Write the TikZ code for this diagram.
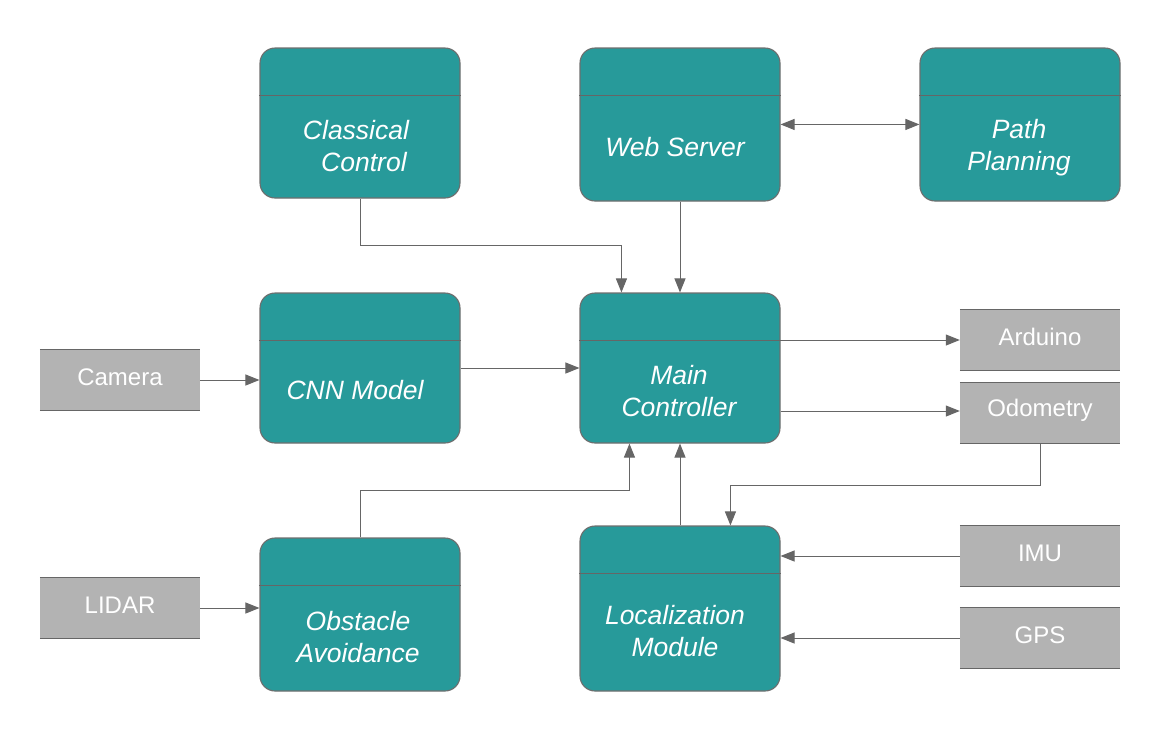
\documentclass[tikz,border=0pt]{standalone}
\usepackage{fontspec}
\setmainfont{Liberation Sans}
\usetikzlibrary{arrows.meta,calc}
\definecolor{teal1}{HTML}{279A9A}
\definecolor{edgegray}{HTML}{6E6E6E}
\definecolor{linegray}{HTML}{666666}
\definecolor{boxgray}{HTML}{B3B3B3}
\tikzset{
  tealbox/.style={draw=edgegray, line width=1.1pt, fill=teal1, rounded corners=15pt,
    minimum width=200pt, minimum height=#1, inner sep=0pt},
  tealbox/.default=150pt,
  tealtext/.style={text=white, font=\fontsize{26.5}{32}\selectfont\itshape, align=center, inner sep=0pt},
  divider/.style={draw=linegray, line width=1.3pt},
  graybox/.style={fill=boxgray, minimum width=160pt, minimum height=60pt, inner sep=0pt,
    text=white, font=\fontsize{24}{28}\selectfont},
  graytext/.style={text=white, font=\fontsize{24}{28}\selectfont, inner sep=0pt},
  grayedge/.style={draw=linegray, line width=1.2pt},
  arr/.style={draw=linegray, line width=1pt, -{Triangle[length=14pt,width=11pt]}},
  biarr/.style={draw=linegray, line width=1pt, {Triangle[length=14pt,width=11pt]}-{Triangle[length=14pt,width=11pt]}},
}
\begin{document}
\begin{tikzpicture}[x=1pt,y=-1pt]
\useasboundingbox (0,0) rectangle (1171,732);
% teal boxes
\node[tealbox] (cc) at (360,123) {};
\node[tealbox=153pt] (ws) at (680,124.5) {};
\node[tealbox=153pt] (pp) at (1020,124.5) {};
\node[tealbox] (cnn) at (360,368) {};
\node[tealbox] (mc) at (680,368) {};
\node[tealbox=153pt] (obs) at (360,614.5) {};
\node[tealbox=165pt] (loc) at (680,608.5) {};
\foreach \n in {cc,ws,pp,cnn,mc,obs,loc}{
  \draw[divider] ($(\n.north west)+(0,48)$) -- ($(\n.north east)+(0,48)$);
}
\node[tealtext] (cct) at (356,146) {Classical\\\hspace{0.6em}Control};
\node[tealtext] (wst) at (675,147) {Web Server};
\node[tealtext] (ppt) at (1019,148) {Path\\Planning};
\node[tealtext] (cnnt) at (355,390) {CNN Model};
\node[tealtext] (mct) at (679,391) {Main\\Controller};
\node[tealtext] (obst) at (358,637) {Obstacle\\Avoidance};
\node[tealtext] (loct) at (675,631) {Localization\\Module};
% gray boxes
\node[graybox] (cam) at (120,380) {};
\node[graybox] (lid) at (120,608) {};
\node[graybox] (ard) at (1040,340) {};
\node[graybox] (odo) at (1040,413) {};
\node[graybox] (imu) at (1040,556) {};
\node[graybox] (gps) at (1040,638) {};
\foreach \n in {cam,lid,ard,odo,imu,gps}{
  \draw[grayedge] (\n.north west) -- (\n.north east) (\n.south west) -- (\n.south east);
}
\node[graytext] (camt) at (120,377) {Camera};
\node[graytext] (lidt) at (120,605) {LIDAR};
\node[graytext] (ardt) at (1040,337) {Arduino};
\node[graytext] (odot) at (1040,410) {Odometry};
\node[graytext] (imut) at (1040,553) {IMU};
\node[graytext] (gpst) at (1040,635) {GPS};
% connectors
\draw[arr] (cc.south) -- ++(0,47) -| ($(mc.north west)+(42,0)$);
\draw[arr] (ws.south) -- (mc.north);
\draw[biarr] ($(ws.north east)+(0,77)$) -- ($(pp.north west)+(0,77)$);
\draw[arr] (cam.east) -- (cnn.west |- cam.east);
\draw[arr] (cnn.east) -- (mc.west);
\draw[arr] (mc.east |- ard.west) -- (ard.west);
\draw[arr] ($(mc.east)+(0,43)$) -- ($(odo.west)+(0,-2)$);
\draw[arr] (odo.south) -- ++(0,42) -| ($(loc.north west)+(151,0)$);
\draw[arr] (loc.north) -- (mc.south);
\draw[arr] (obs.north) -- ++(0,-47) -| ($(mc.south west)+(50,0)$);
\draw[arr] (lid.east) -- (obs.west |- lid.east);
\draw[arr] (imu.west) -- (loc.east |- imu.west);
\draw[arr] (gps.west) -- (loc.east |- gps.west);
\end{tikzpicture}
\end{document}
